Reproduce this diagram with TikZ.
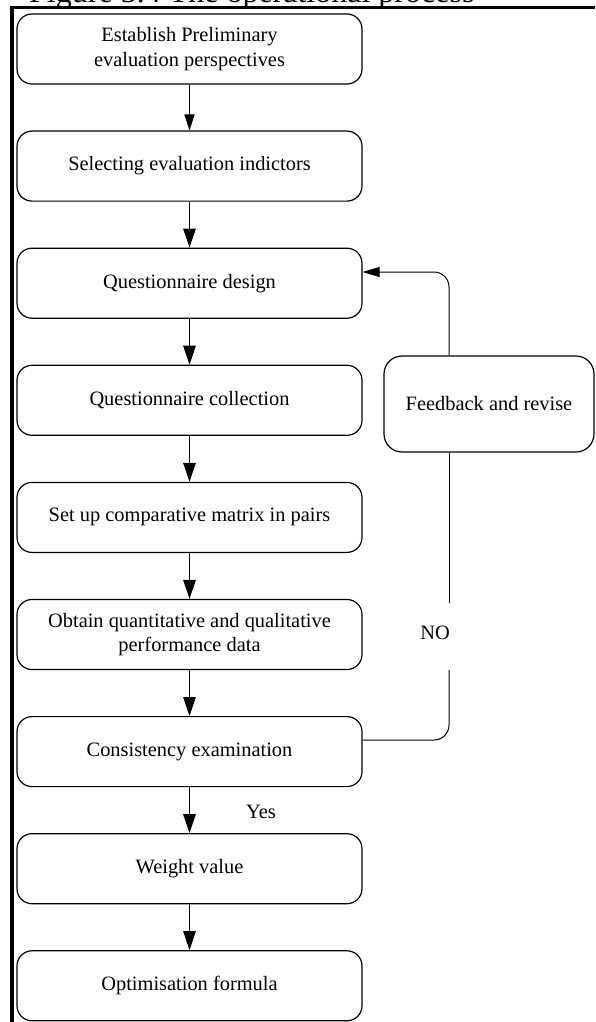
\documentclass[tikz,border=0pt]{standalone}
\usepackage{fontspec}
\setmainfont{Liberation Serif}
\usetikzlibrary{arrows.meta}
\begin{document}
\begin{tikzpicture}[x=1pt,y=-1pt,
  stage/.style={draw, line width=1.2pt, rounded corners=15pt,
    minimum width=345pt, minimum height=70pt, inner sep=0pt,
    align=center, font=\fontsize{20.4}{24.5}\selectfont},
  sidebox/.style={draw, line width=1.2pt, rounded corners=18pt,
    minimum width=210pt, minimum height=96pt, inner sep=0pt,
    align=center, font=\fontsize{20.4}{24.5}\selectfont},
  flow/.style={line width=1.2pt, -{Triangle[length=19pt,width=12.5pt]}},
  flowsmall/.style={line width=1.2pt, -{Triangle[length=16pt,width=10pt]}},
  loopline/.style={line width=1pt, rounded corners=15pt},
  looparrow/.style={loopline, -{Triangle[length=17pt,width=10pt]}},
  tag/.style={inner sep=0pt, font=\fontsize{20.4}{24.5}\selectfont},
  frame/.style={line width=4pt}]
\useasboundingbox (0,0) rectangle (595,1022);

% caption line, mostly cut off by the page edge
\begin{scope}
  \clip (0,0) rectangle (595,6.5);
  \node[anchor=base west, inner sep=0pt, font=\fontsize{32}{38}\selectfont]
    (caption) at (29,3) {Figure 3.4 The operational process};
\end{scope}

% frame lines
\draw[line width=4pt] (12,1022) -- (12,7.5);
\draw[line width=3pt] (10,7.5) -- (595,7.5);

% main sequence of stages
\node[stage] (s1) at (189.5,49.0)  {Establish Preliminary\\evaluation perspectives};
\node[stage] (s2) at (189.5,166.1) {Selecting evaluation indictors};
\node[stage] (s3) at (189.5,283.2) {Questionnaire design};
\node[stage] (s4) at (189.5,400.3) {Questionnaire collection};
\node[stage] (s5) at (189.5,517.4) {Set up comparative matrix in pairs};
\node[stage] (s6) at (189.5,634.5) {Obtain quantitative and qualitative\\performance data};
\node[stage] (s7) at (189.5,751.6) {Consistency examination};
\node[stage] (s8) at (189.5,868.7) {Weight value};
\node[stage] (s9) at (189.5,985.8) {Optimisation formula};

% feedback step
\node[sidebox] (fb) at (489,404) {Feedback and revise};

% forward arrows
\draw[flowsmall] (s1) -- (s2);
\draw[flow] (s2) -- (s3);
\draw[flow] (s3) -- (s4);
\draw[flow] (s4) -- (s5);
\draw[flow] (s5) -- (s6);
\draw[flow] (s6) -- (s7);
\draw[flow] (s7) -- (s8);
\draw[flow] (s8) -- (s9);

\node[tag] (yes) at (261,812) {Yes};

% loop back when the check fails
\coordinate (riseX) at (449,0);
\coordinate (topTurn) at (449,272);
\coordinate (lowTurn) at (449,740);
\coordinate (gapLow) at (449,670);
\coordinate (gapHigh) at (449,603);
\draw[loopline] (s7.east |- lowTurn) -- (lowTurn) -- (gapLow);
\draw[loopline] (gapHigh) -- (fb.south -| riseX);
\draw[looparrow] (fb.north -| riseX) -- (topTurn) -- (s3.east |- topTurn);
\node[tag] (no) at (435,633) {NO};
\end{tikzpicture}
\end{document}
